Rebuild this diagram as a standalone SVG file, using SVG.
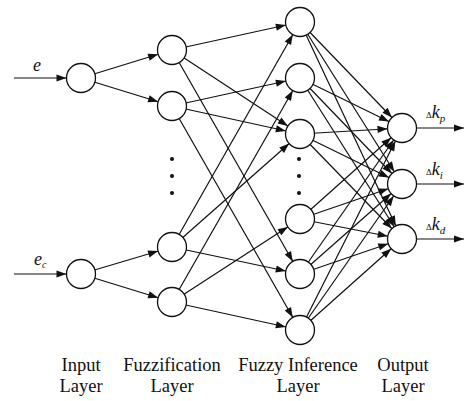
<svg xmlns="http://www.w3.org/2000/svg" width="464" height="401" viewBox="0 0 464 401">
<style>
.n{fill:#fff;stroke:#111;stroke-width:1.3}
.c line{stroke:#111;stroke-width:1.2}
.a{marker-end:url(#ah)}
.lbl{font-family:"Liberation Serif","Times New Roman",serif;fill:#111}
.cap{font-family:"Liberation Serif","Times New Roman",serif;font-size:18.5px;fill:#111;text-anchor:middle}
.dot{fill:#111}
</style>
<defs>
<marker id="ah" markerUnits="userSpaceOnUse" orient="auto" refX="14.5" refY="0" markerWidth="1" markerHeight="1" overflow="visible"><path d="M0,0 L-10,-3.6 L-10,3.6 Z" fill="#111"/></marker>
<marker id="ae" markerUnits="userSpaceOnUse" orient="auto" refX="0" refY="0" markerWidth="1" markerHeight="1" overflow="visible"><path d="M0,0 L-10,-3.6 L-10,3.6 Z" fill="#111"/></marker>
</defs>
<rect width="464" height="401" fill="#fff"/>
<g id="connectors" class="c">
<line x1="14" y1="78" x2="81" y2="78" class="a"/>
<line x1="14" y1="274" x2="81" y2="274" class="a"/>
<line x1="81" y1="78" x2="172" y2="50" class="a"/>
<line x1="81" y1="78" x2="172" y2="106" class="a"/>
<line x1="81" y1="274" x2="172" y2="247" class="a"/>
<line x1="81" y1="274" x2="172" y2="302" class="a"/>
<line x1="172" y1="50" x2="300" y2="22" class="a"/>
<line x1="172" y1="50" x2="300" y2="134" class="a"/>
<line x1="172" y1="50" x2="300" y2="274" class="a"/>
<line x1="172" y1="106" x2="300" y2="78" class="a"/>
<line x1="172" y1="106" x2="300" y2="134" class="a"/>
<line x1="172" y1="106" x2="300" y2="330" class="a"/>
<line x1="172" y1="247" x2="300" y2="22" class="a"/>
<line x1="172" y1="247" x2="300" y2="134" class="a"/>
<line x1="172" y1="247" x2="300" y2="274" class="a"/>
<line x1="172" y1="302" x2="300" y2="78" class="a"/>
<line x1="172" y1="302" x2="300" y2="219" class="a"/>
<line x1="172" y1="302" x2="300" y2="330" class="a"/>
<line x1="300" y1="22" x2="402" y2="128" class="a"/>
<line x1="300" y1="22" x2="402" y2="184" class="a"/>
<line x1="300" y1="22" x2="402" y2="239" class="a"/>
<line x1="300" y1="78" x2="402" y2="128" class="a"/>
<line x1="300" y1="78" x2="402" y2="184" class="a"/>
<line x1="300" y1="78" x2="402" y2="239" class="a"/>
<line x1="300" y1="134" x2="402" y2="128" class="a"/>
<line x1="300" y1="134" x2="402" y2="184" class="a"/>
<line x1="300" y1="134" x2="402" y2="239" class="a"/>
<line x1="300" y1="219" x2="402" y2="128" class="a"/>
<line x1="300" y1="219" x2="402" y2="184" class="a"/>
<line x1="300" y1="219" x2="402" y2="239" class="a"/>
<line x1="300" y1="274" x2="402" y2="128" class="a"/>
<line x1="300" y1="274" x2="402" y2="184" class="a"/>
<line x1="300" y1="274" x2="402" y2="239" class="a"/>
<line x1="300" y1="330" x2="402" y2="128" class="a"/>
<line x1="300" y1="330" x2="402" y2="184" class="a"/>
<line x1="300" y1="330" x2="402" y2="239" class="a"/>
<line x1="402" y1="128" x2="464" y2="128" marker-end="url(#ae)"/>
<line x1="402" y1="184" x2="464" y2="184" marker-end="url(#ae)"/>
<line x1="402" y1="239" x2="464" y2="239" marker-end="url(#ae)"/>
</g>
<g id="in1"><circle class="n" cx="81" cy="78" r="14.5"/></g>
<g id="in2"><circle class="n" cx="81" cy="274" r="14.5"/></g>
<g id="fz1"><circle class="n" cx="172" cy="50" r="14.5"/></g>
<g id="fz2"><circle class="n" cx="172" cy="106" r="14.5"/></g>
<g id="fz3"><circle class="n" cx="172" cy="247" r="14.5"/></g>
<g id="fz4"><circle class="n" cx="172" cy="302" r="14.5"/></g>
<g id="fi1"><circle class="n" cx="300" cy="22" r="14.5"/></g>
<g id="fi2"><circle class="n" cx="300" cy="78" r="14.5"/></g>
<g id="fi3"><circle class="n" cx="300" cy="134" r="14.5"/></g>
<g id="fi4"><circle class="n" cx="300" cy="219" r="14.5"/></g>
<g id="fi5"><circle class="n" cx="300" cy="274" r="14.5"/></g>
<g id="fi6"><circle class="n" cx="300" cy="330" r="14.5"/></g>
<g id="out1"><circle class="n" cx="402" cy="128" r="14.5"/></g>
<g id="out2"><circle class="n" cx="402" cy="184" r="14.5"/></g>
<g id="out3"><circle class="n" cx="402" cy="239" r="14.5"/></g>
<g id="dots">
<circle class="dot" cx="172" cy="159" r="2"/><circle class="dot" cx="172" cy="176" r="2"/><circle class="dot" cx="172" cy="193" r="2"/>
<circle class="dot" cx="299" cy="159" r="2"/><circle class="dot" cx="299" cy="176" r="2"/><circle class="dot" cx="299" cy="193" r="2"/>
</g>
<g id="labels">
<text class="lbl" x="33" y="71" font-size="18" font-style="italic">e</text>
<text class="lbl" x="34" y="265" font-size="18" font-style="italic">e<tspan font-size="10" dy="3">c</tspan></text>
<text class="lbl" x="426" y="118"><tspan font-size="9">Δ</tspan><tspan font-size="18" font-style="italic">k</tspan><tspan font-size="11" font-style="italic" dy="4">p</tspan></text>
<text class="lbl" x="426" y="175"><tspan font-size="9">Δ</tspan><tspan font-size="18" font-style="italic">k</tspan><tspan font-size="11" font-style="italic" dy="4">i</tspan></text>
<text class="lbl" x="426" y="230"><tspan font-size="9">Δ</tspan><tspan font-size="18" font-style="italic">k</tspan><tspan font-size="11" font-style="italic" dy="4">d</tspan></text>
<text class="cap" x="81" y="371">Input</text>
<text class="cap" x="81" y="392">Layer</text>
<text class="cap" x="172" y="371">Fuzzification</text>
<text class="cap" x="172" y="392">Layer</text>
<text class="cap" x="298" y="371">Fuzzy Inference</text>
<text class="cap" x="298" y="392">Layer</text>
<text class="cap" x="403" y="371">Output</text>
<text class="cap" x="403" y="392">Layer</text>
</g>
</svg>
